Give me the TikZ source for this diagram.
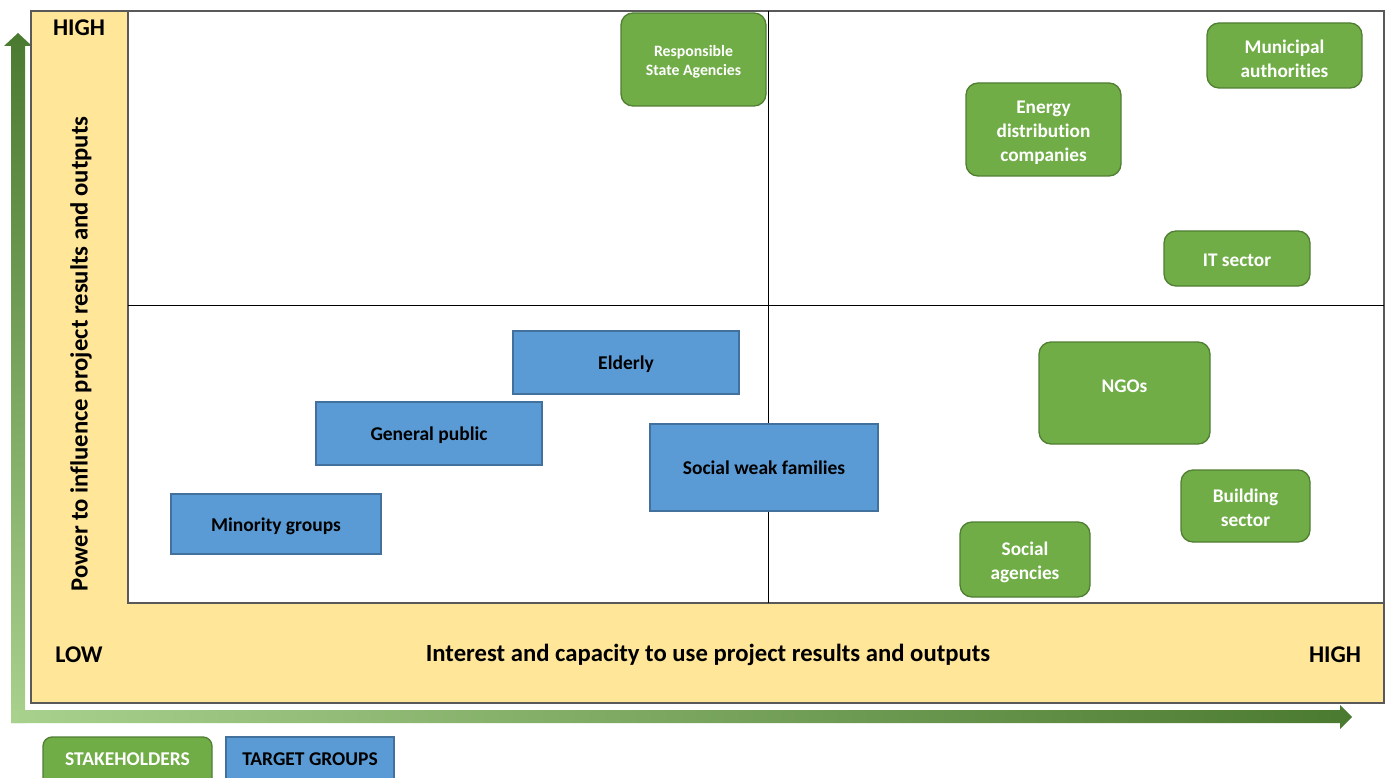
\documentclass[tikz,border=0pt]{standalone}
\usepackage{fontspec}
\setmainfont{Carlito}[Ligatures={NoCommon}]
\definecolor{quadyellow}{HTML}{FFE699}
\definecolor{framegray}{HTML}{595959}
\definecolor{stkgreen}{HTML}{70AD47}
\definecolor{stkborder}{HTML}{507E32}
\definecolor{tgblue}{HTML}{5B9BD5}
\definecolor{tgborder}{HTML}{41719C}
\definecolor{arrdark}{HTML}{4A7A2F}
\definecolor{arrlight}{HTML}{A9D18E}
\newcommand\boxlowh{18pt}
\newcommand\firstln[1]{\rule{0pt}{#1}}
\tikzset{
  lowered/.code={\def\boxlowh{#1}},
  stk/.style={draw=stkborder, line width=1.3pt, fill=stkgreen, rounded corners=12pt,
    text=white, align=center, inner sep=0pt, lowered=18pt,
    execute at begin node={\rule{0pt}{\boxlowh}},
    font=\bfseries\fontsize{19.3}{24}\selectfont},
  tg/.style={draw=tgborder, line width=1.3pt, fill=tgblue, text=black, align=center,
    inner sep=0pt, lowered=18pt, execute at begin node={\rule{0pt}{\boxlowh}},
    font=\bfseries\fontsize{19.5}{23}\selectfont},
  axislabel/.style={font=\bfseries\fontsize{24.7}{28}\selectfont, text=black, inner sep=0pt},
}
\begin{document}
\begin{tikzpicture}[x=1pt,y=-1pt]
\useasboundingbox (0,0) rectangle (1387,778);
\clip (0,0) rectangle (1387,778);
% arrows
\shade[top color=arrdark, bottom color=arrlight]
  (11,723) -- (11,46) -- (4,46) -- (18,33) -- (32,46) -- (25,46) -- (25,723) -- cycle;
\shade[left color=arrlight, right color=arrdark]
  (11,710) -- (1340,710) -- (1340,705) -- (1352,717) -- (1340,729) -- (1340,723) -- (11,723) -- cycle;
% frame
\draw[framegray, line width=1.2pt, fill=quadyellow] (31,11) rectangle (1384,703);
\draw[framegray, line width=1.2pt, fill=white] (128,11) rectangle (1384,603);
\coordinate (vt) at (768,11);
\coordinate (vb) at (768,603);
\coordinate (hl) at (128,305);
\coordinate (hr) at (1384,305);
\draw[black, line width=0.8pt] (vt) -- (vb);
\draw[black, line width=0.8pt] (hl) -- (hr);
% axis labels
\node[axislabel, font=\bfseries\fontsize{24}{28}\selectfont] (hightop) at (79,28) {HIGH};
\node[axislabel, font=\bfseries\fontsize{24}{28}\selectfont] (low) at (79,654.5) {LOW};
\node[axislabel, font=\bfseries\fontsize{24}{28}\selectfont] (highright) at (1335,654.5) {HIGH};
\node[axislabel] (xlabel) at (708,654.5) {Interest and capacity to use project results and outputs};
\node[axislabel, rotate=90] (ylabel) at (81,354) {Power to influence project results and outputs};
% stakeholders
\node[stk, minimum width=145pt, minimum height=93pt, lowered=0pt, font=\bfseries\fontsize{15.8}{19}\selectfont] (rsa) at (693.5,59.5) {\firstln{15.2pt}Responsible\\State Agencies};
\node[stk, minimum width=155pt, minimum height=93pt, lowered=0pt] (edc) at (1043.5,129.5) {\firstln{18.4pt}Energy\\distribution\\companies};
\node[stk, minimum width=155pt, minimum height=65pt, lowered=0pt] (mun) at (1284.5,55.5) {\firstln{20pt}Municipal\\authorities};
\node[stk, minimum width=146pt, minimum height=55pt, lowered=16pt] (its) at (1237,258.5) {IT sector};
\node[stk, minimum width=171pt, minimum height=102pt] (ngo) at (1124.5,393) {\raisebox{13pt}{NGOs}};
\node[stk, minimum width=129pt, minimum height=72pt, lowered=0pt] (bld) at (1245.5,506) {\firstln{17.7pt}Building\\sector};
\node[stk, minimum width=130pt, minimum height=75pt, lowered=0pt] (soc) at (1025,559.5) {\firstln{19.7pt}Social\\agencies};
% target groups
\node[tg, minimum width=226pt, minimum height=63pt] (eld) at (626,362.5) {Elderly};
\node[tg, minimum width=226pt, minimum height=63pt] (gen) at (429,433.5) {General public};
\node[tg, minimum width=210pt, minimum height=60pt] (min) at (276,524) {Minority groups};
\node[tg, minimum width=228pt, minimum height=87pt, lowered=0pt] (swf) at (764,467.5) {Social weak families};
% legend
\node[stk, minimum width=169pt, minimum height=53pt, rounded corners=9pt, lowered=0pt, font=\bfseries\fontsize{19.5}{23}\selectfont] (legstk) at (127.5,763.5) {\raisebox{9pt}{STAKEHOLDERS}};
\node[tg, minimum width=168pt, minimum height=53pt, lowered=0pt] (legtg) at (310,763.5) {\raisebox{9pt}{TARGET GROUPS}};
\end{tikzpicture}
\end{document}
